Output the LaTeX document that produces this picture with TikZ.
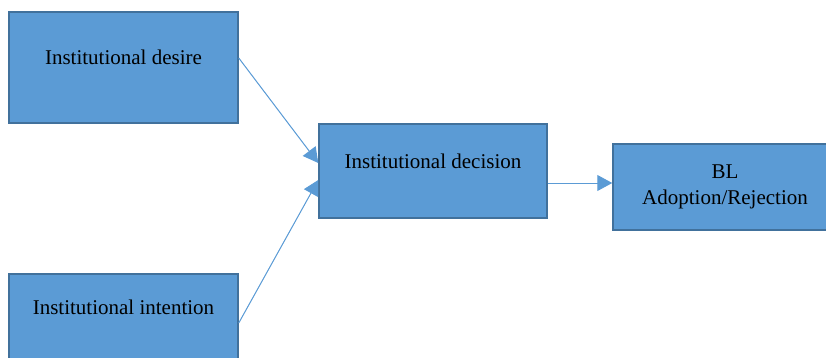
\documentclass[tikz,border=0pt]{standalone}
\usepackage{fontspec}
\setmainfont{Liberation Serif}
\usepackage{tikz}
\usetikzlibrary{arrows.meta, positioning, calc}

\definecolor{boxfill}{HTML}{5B9BD5}
\definecolor{boxline}{HTML}{41719C}

\begin{document}
\begin{tikzpicture}[
        x=1pt, y=1pt,
        box/.style={
            draw=boxline,
            fill=boxfill,
            line width=1.5pt,
            minimum width=229pt,
            align=center,
            font=\fontsize{21}{26}\selectfont,
            text height=14pt
        },
        arrow/.style={
            -{Triangle[length=15pt, width=16pt]},
            draw=boxfill,
            fill=boxfill,
            line width=1pt
        }
    ]

    \useasboundingbox (0,0) rectangle (826,357);
    \clip (0,0) rectangle (826,357);

    \node[box, minimum height=111pt, text depth=21pt] (desire) at (123.5,289.5)
    {Institutional desire};

    \node[box, minimum height=88pt, text depth=21pt] (intention) at (123.5,39)
    {Institutional intention};

    \node[box, minimum width=228pt, minimum height=94pt, text depth=20pt] (decision) at (433,186)
    {Institutional decision};

    \node[box, minimum width=224pt, minimum height=86pt, text height=, text depth=] (adoption) at (725,170)
    {BL\\ Adoption/Rejection};

    \draw[arrow] ([yshift=9.5pt]desire.east) -- ([yshift=8pt]decision.west);
    \draw[arrow] ([yshift=-5pt]intention.east) -- ([yshift=-9pt]decision.west);
    \draw[arrow] ([yshift=-12pt]decision.east) -- ([yshift=-12pt]decision.east -| adoption.west);

    \end{tikzpicture}
\end{document}
